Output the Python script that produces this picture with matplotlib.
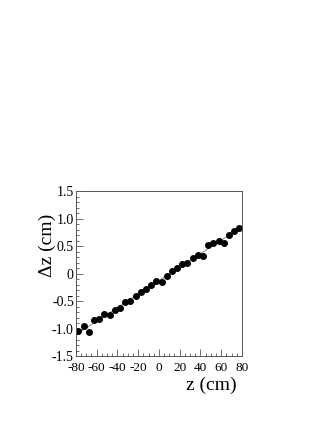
import numpy as np
import matplotlib
matplotlib.use("Agg")
import matplotlib.pyplot as plt
from matplotlib.ticker import MultipleLocator, FixedLocator

# measured residuals
z_cm = [-77.5, -72.5, -67.5, -62.5, -57.5, -52.5, -47.5, -42.5, -37.5, -32.5,
        -27.5, -22.5, -17.5, -12.5, -7.5, -2.5, 2.5, 7.5, 12.5, 17.5,
        22.5, 27.5, 32.5, 37.5, 42.5, 47.5, 52.5, 57.5, 62.5, 67.5,
        72.5, 77.5]
dz_cm = [-1.04, -0.96, -1.06, -0.85, -0.83, -0.74, -0.75, -0.66, -0.62, -0.52,
         -0.49, -0.40, -0.33, -0.27, -0.21, -0.14, -0.15, -0.04, 0.05, 0.10,
         0.17, 0.19, 0.29, 0.34, 0.33, 0.52, 0.56, 0.60, 0.55, 0.70,
         0.77, 0.83]

xticks = [-80, -60, -40, -20, 0, 20, 40, 60, 80]
yticks = [1.5, 1.0, 0.5, 0, -0.5, -1.0, -1.5]
ytick_labels = ["1.5", "1.0", "0.5", "0", "-0.5", "-1.0", "-1.5"]

plt.rcParams['font.family'] = ['Liberation Serif', 'DejaVu Serif']

fig = plt.figure(figsize=(3.27, 4.23), dpi=100)
ax = fig.add_axes([0.232, 0.158, 0.508, 0.39])

# linear fit
p = np.polyfit(z_cm, dz_cm, 1)
xf = np.array([-80, 80])
ax.plot(xf, np.polyval(p, xf), color="#888888", lw=0.7, zorder=1)
ax.plot(z_cm, dz_cm, "o", color="black", ms=4.0, zorder=2)

ax.set_xlim(-80, 80)
ax.set_ylim(-1.5, 1.5)
ax.xaxis.set_major_locator(FixedLocator(xticks))
ax.xaxis.set_minor_locator(MultipleLocator(5))
ax.yaxis.set_major_locator(FixedLocator(yticks))
ax.set_yticklabels(ytick_labels)
ax.set_xticklabels([str(t) for t in xticks])
ax.yaxis.set_minor_locator(MultipleLocator(0.1))
ax.tick_params(which="both", direction="in", top=False, right=False,
               color="#555555")
ax.tick_params(axis="y", labelsize=10, pad=1.5)
ax.tick_params(axis="x", labelsize=9.5, pad=4.5)
ax.tick_params(which="major", length=5, width=0.6)
ax.tick_params(which="minor", length=2.5, width=0.6)
for s in ax.spines.values():
    s.set_linewidth(0.7)
    s.set_color("#555555")

fig.text(0.725, 0.088, "z (cm)", fontsize=14, ha="right", va="center")
fig.text(0.145, 0.42, "\u0394z (cm)", fontsize=14, rotation=90,
         ha="center", va="center")

fig.savefig("out.png", dpi=100)
